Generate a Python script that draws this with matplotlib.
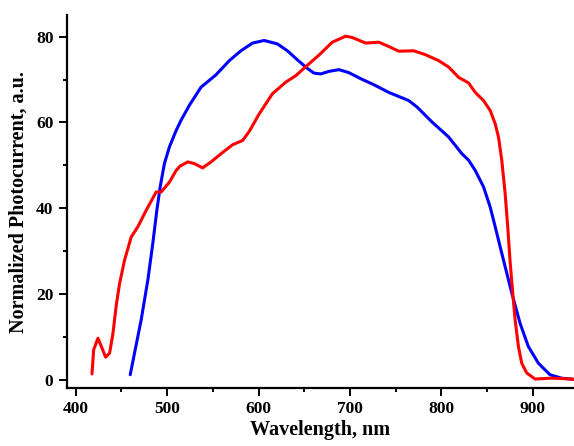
import matplotlib
matplotlib.use("Agg")
import matplotlib.pyplot as plt
from matplotlib.ticker import MultipleLocator

red_x = [417.8, 419.6, 424.3, 428, 432.7, 437, 440.7, 444.4, 448, 453.4, 460.7, 468, 477, 488, 493.5,
         502.5, 509.8, 514, 522.5, 529.8, 538.8, 548, 558.9, 571.6, 582.5, 589.8, 600.7, 615.2, 629.8,
         640.7, 651.6, 666.1, 680.6, 695.2, 702.4, 717, 731.5, 742.4, 753.3, 769.7, 782.4, 797, 807.9,
         818.8, 829.7, 837, 846, 853.3, 858.8, 862.4, 866, 869.7, 872.5, 875, 878, 880.6, 884.2, 887.8,
         893.3, 902.4, 920.5, 942.3, 945]
red_y = [1.4, 7.0, 9.7, 7.8, 5.3, 6.2, 10.8, 17.5, 22.5, 27.9, 33.3, 35.7, 39.5, 43.8, 43.8,
         46.1, 48.8, 49.8, 50.8, 50.4, 49.4, 50.8, 52.7, 54.8, 55.8, 57.9, 62.0, 66.7, 69.4,
         70.9, 73.0, 75.7, 78.7, 80.1, 79.8, 78.5, 78.7, 77.7, 76.6, 76.7, 75.8, 74.4, 72.9,
         70.5, 69.2, 67.0, 65.1, 62.8, 59.7, 56.6, 51.2, 43.4, 35.7, 27.9, 20.2, 14.0, 7.8, 3.9,
         1.6, 0.2, 0.4, 0.2, 0.1]

blue_x = [459.6, 471.6, 478.9, 484.3, 488.7, 492.4, 497, 502.5, 509.8, 515.2, 524.3, 537, 553.4, 568,
          580.7, 593.4, 606.1, 620.6, 631.5, 642.4, 653.3, 660.6, 667.9, 677, 688, 698.8, 711.6, 726,
          742.4, 764.2, 773.3, 789.7, 807.9, 822.4, 829.7, 837, 846, 853.3, 858.8, 866, 877, 886, 895,
          906, 918.7, 931.4, 945]
blue_y = [1.2, 14.0, 23.3, 31.8, 39.5, 45.0, 50.4, 54.3, 58.1, 60.5, 64.0, 68.2, 71.1, 74.4,
          76.7, 78.5, 79.1, 78.3, 76.7, 74.6, 72.6, 71.5, 71.3, 71.9, 72.3, 71.6, 70.2, 68.8,
          67.0, 65.1, 63.6, 60.1, 56.6, 52.7, 51.2, 48.8, 45.0, 40.3, 35.7, 29.5, 20.2, 13.2, 7.8,
          3.9, 1.2, 0.4, 0.1]

x_ticks = [400, 500, 600, 700, 800, 900]
y_ticks = [0, 20, 40, 60, 80]

plt.rcParams['font.family'] = ['Liberation Serif', 'DejaVu Serif']

fig = plt.figure(figsize=(5.74, 4.46), dpi=100)
ax = fig.add_axes([0.116, 0.130, 0.884, 0.836])

ax.plot(blue_x, blue_y, color='#0000ff', lw=2.2, solid_joinstyle='round', solid_capstyle='round')
ax.plot(red_x, red_y, color='#ff0000', lw=2.2, solid_joinstyle='round', solid_capstyle='round')

ax.set_xlim(390, 945)
ax.set_ylim(-1.9, 85)
ax.set_xticks(x_ticks)
ax.set_yticks(y_ticks)
ax.xaxis.set_minor_locator(MultipleLocator(50))
ax.yaxis.set_minor_locator(MultipleLocator(10))

for s in ['top', 'right']:
    ax.spines[s].set_visible(False)
for s in ['left', 'bottom']:
    ax.spines[s].set_linewidth(1.6)

ax.tick_params(which='major', direction='out', length=5.5, width=1.4, labelsize=12.5, pad=4)
ax.tick_params(which='minor', direction='out', length=3, width=1.4)
for lab in ax.get_xticklabels() + ax.get_yticklabels():
    lab.set_fontweight('bold')

ax.set_xlabel('Wavelength, nm', fontsize=14.5, fontweight='bold', labelpad=2)
ax.set_ylabel('Normalized Photocurrent, a.u.', fontsize=14.5, fontweight='bold', labelpad=5)

fig.savefig('out.png', dpi=100)
